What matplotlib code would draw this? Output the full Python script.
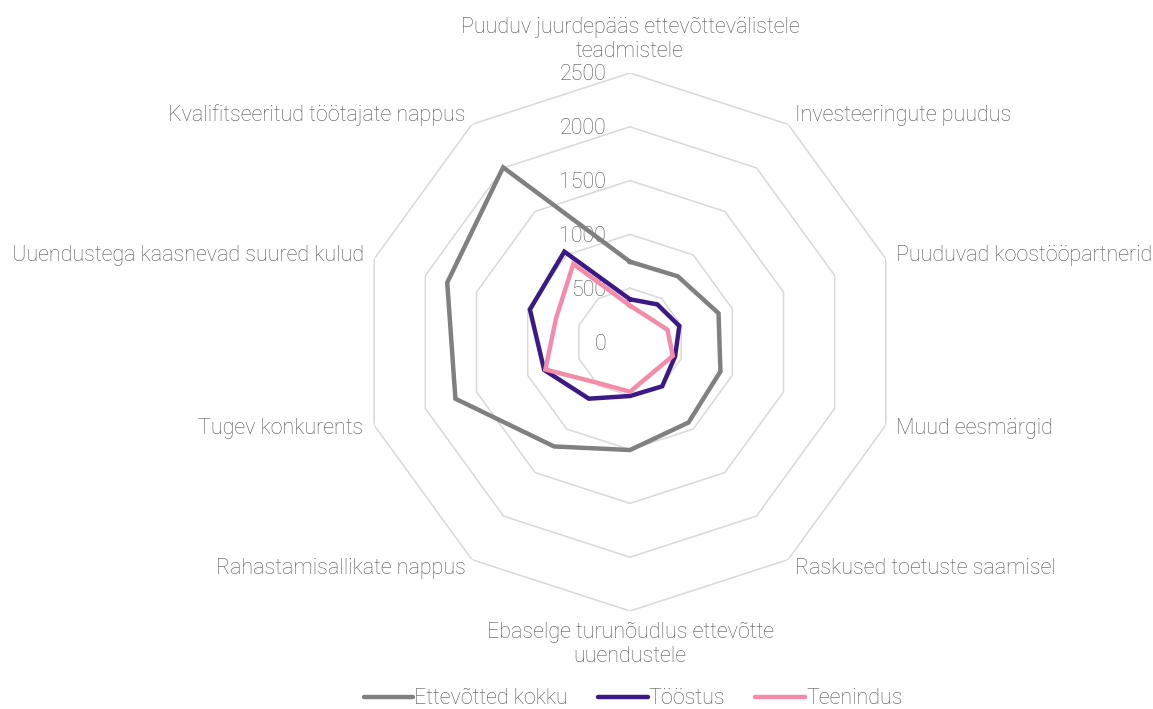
import numpy as np
import matplotlib
matplotlib.use("Agg")
import matplotlib.pyplot as plt

plt.rcParams['font.family'] = ['Roboto', 'DejaVu Sans']

kategooriad = [
    "Puuduv juurdepääs ettevõttevälistele\nteadmistele",
    "Investeeringute puudus",
    "Puuduvad koostööpartnerid",
    "Muud eesmärgid",
    "Raskused toetuste saamisel",
    "Ebaselge turunõudlus ettevõtte\nuuendustele",
    "Rahastamisallikate nappus",
    "Tugev konkurents",
    "Uuendustega kaasnevad suured kulud",
    "Kvalifitseeritud töötajate nappus",
]

kokku = [746, 755, 865, 884, 925, 1004, 1200, 1706, 1786, 2006]
toostus = [397, 432, 482, 440, 509, 502, 651, 839, 978, 1038]
teenindus = [338, 286, 366, 418, 355, 462, 476, 827, 722, 896]

seeriad = ["Ettevõtted kokku", "Tööstus", "Teenindus"]
varvid = ["#808080", "#3b1a87", "#f48ba9"]

skaala = [0, 500, 1000, 1500, 2000, 2500]

tekstivarv = "#555555"
fs = 15.5

n = len(kategooriad)
nurgad = np.linspace(0, 2 * np.pi, n, endpoint=False)
nurgad_k = np.append(nurgad, nurgad[0])

fig = plt.figure(figsize=(11.53, 7.09), dpi=100)
cx, cy, rad = 630 / 1153, (709 - 342) / 709, 269
ax = fig.add_axes([cx - rad / 1153, cy - rad / 709, 2 * rad / 1153, 2 * rad / 709],
                  projection='polar')
ax.set_theta_zero_location('N')
ax.set_theta_direction(-1)
ax.set_ylim(0, 2500)
ax.grid(False)
ax.spines['polar'].set_visible(False)
ax.set_xticks([])
ax.set_yticks([])

# hulknurksed ringid
for r in skaala[1:]:
    ax.plot(nurgad_k, [r] * (n + 1), color="#d9d9d9", lw=1.1, zorder=1)

# skaala sildid
for r in skaala:
    ax.annotate(str(r), xy=(0, r), xytext=(-24, -2), textcoords='offset pixels',
                ha='right', va='center', fontsize=fs, color=tekstivarv,
                fontweight='light', annotation_clip=False)

# kategooriate sildid
for a, nimi in zip(nurgad, kategooriad):
    s, c = np.sin(a), np.cos(a)
    if s > 0.1:
        ha = 'left'
    elif s < -0.1:
        ha = 'right'
    else:
        ha = 'center'
    if abs(s) < 0.1:
        va = 'bottom' if c > 0 else 'top'
    else:
        va = 'center'
    ax.annotate(nimi, xy=(a, 2500), xytext=(11 * s, 11 * c), textcoords='offset pixels',
                ha=ha, va=va, fontsize=fs, color=tekstivarv, fontweight='light',
                multialignment='center', linespacing=1.2, annotation_clip=False)

for vaartused, nimi, v in zip([kokku, toostus, teenindus], seeriad, varvid):
    ax.plot(nurgad_k, vaartused + vaartused[:1], color=v, lw=3.2, label=nimi,
            solid_joinstyle='miter', zorder=3)

leg = fig.legend(loc='lower center', bbox_to_anchor=(0.549, -0.028), ncol=3, frameon=False,
                 handlelength=2.3, handletextpad=0.05, columnspacing=1.4,
                 prop={'size': fs, 'weight': 'light'})
for t in leg.get_texts():
    t.set_color(tekstivarv)
for ln in leg.get_lines():
    ln.set_solid_capstyle('round')

fig.savefig("out.png", dpi=100)
